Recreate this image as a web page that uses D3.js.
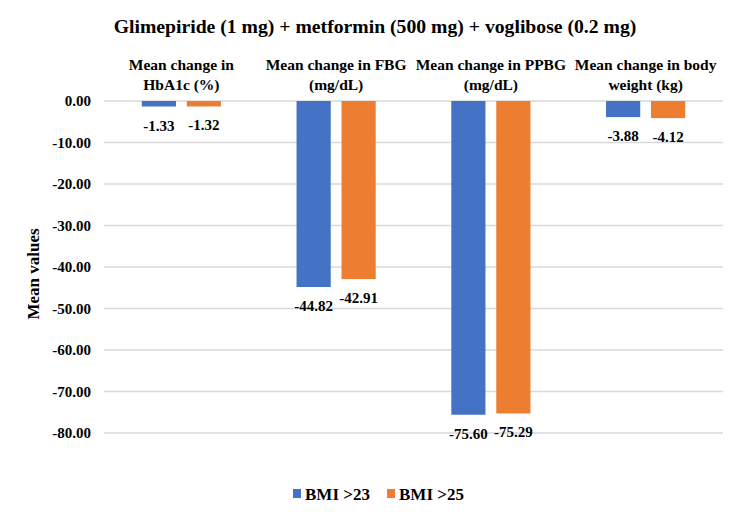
<!DOCTYPE html>
<html>
<head>
<meta charset="utf-8">
<script src="https://cdn.jsdelivr.net/npm/d3@7"></script>
<style>
  body { margin: 0; background: #fff; }
  text { font-family: "Liberation Serif", "Times New Roman", serif; font-weight: bold; fill: #000; }
</style>
</head>
<body>
<div id="chart"></div>
<script>
const width = 750,
    height = 519

const categories = [
    ["Mean change in", "HbA1c (%)"],
    ["Mean change in FBG", "(mg/dL)"],
    ["Mean change in PPBG", "(mg/dL)"],
    ["Mean change in body", "weight (kg)"]
]
const seriesNames = ["BMI >23", "BMI >25"]
const bmi23 = [-1.33, -44.82, -75.60, -3.88]
const bmi25 = [-1.32, -42.91, -75.29, -4.12]
const yTicks = [0, -10, -20, -30, -40, -50, -60, -70, -80]

const colors = ["#4472C4", "#ED7D31"]

const margin = { left: 104, right: 27, top: 101, bottom: 86 }

const svg = d3.select("#chart")
    .append("svg")
        .attr("width", width)
        .attr("height", height)

const y = d3.scaleLinear()
    .domain([0, -80])
    .range([margin.top, height - margin.bottom])

const x = d3.scaleBand()
    .domain(d3.range(categories.length))
    .range([margin.left, width - margin.right])

const xInner = d3.scaleBand()
    .domain([0, 1])
    .range([0, x.bandwidth()])
    .paddingInner(0.24)
    .paddingOuter(0.84)

// gridlines
svg.append("g")
    .selectAll("line")
    .data(yTicks)
    .enter()
    .append("line")
        .attr("x1", margin.left)
        .attr("x2", width - margin.right)
        .attr("y1", d => y(d))
        .attr("y2", d => y(d))
        .attr("stroke", "#d9d9d9")
        .attr("stroke-width", 1.3)

// y axis labels (plain hyphen, not unicode minus)
const yAxis = d3.axisLeft(y)
    .tickValues(yTicks)
    .tickFormat(d => d.toFixed(2))
    .tickSize(0)
    .tickPadding(13)

svg.append("g")
    .attr("transform", `translate(${margin.left},0)`)
    .call(yAxis)
    .call(g => g.select(".domain").remove())
    .selectAll("text")
        .style("font-family", "Liberation Serif, serif")
        .style("font-weight", "bold")
        .style("font-size", "15px")
        .attr("fill", "#000")

// y title
svg.append("text")
    .attr("transform", `translate(39,${(y(0) + y(-80)) / 2 + 7}) rotate(-90)`)
    .attr("text-anchor", "middle")
    .attr("font-size", "17px")
    .text("Mean values")

// title
svg.append("text")
    .attr("x", width / 2)
    .attr("y", 33)
    .attr("text-anchor", "middle")
    .attr("font-size", "19.7px")
    .text("Glimepiride (1 mg) + metformin (500 mg) + voglibose (0.2 mg)")

// category labels
const catLabels = svg.append("g")
    .selectAll("text")
    .data(categories)
    .enter()
    .append("text")
        .attr("text-anchor", "middle")
        .attr("font-size", "15.5px")
        .attr("x", (d, i) => x(i) + x.bandwidth() / 2)
        .attr("y", 70)

catLabels.selectAll("tspan")
    .data(d => d)
    .enter()
    .append("tspan")
        .attr("x", function () { return d3.select(this.parentNode).attr("x") })
        .attr("dy", (d, i) => i === 0 ? 0 : 20)
        .text(d => d)

// bars
const series = [bmi23, bmi25]
series.forEach((vals, s) => {
    const g = svg.append("g")
    g.selectAll("rect")
        .data(vals)
        .enter()
        .append("rect")
            .attr("x", (d, i) => x(i) + xInner(s))
            .attr("y", y(0))
            .attr("width", xInner.bandwidth())
            .attr("height", d => y(d) - y(0))
            .attr("fill", colors[s])

    g.selectAll("text")
        .data(vals)
        .enter()
        .append("text")
            .attr("x", (d, i) => x(i) + xInner(s) + xInner.bandwidth() / 2)
            .attr("y", d => y(d) + 24)
            .attr("text-anchor", "middle")
            .attr("font-size", "15px")
            .text(d => d.toFixed(2))
})

// legend
const legendX = [293, 387]
const legend = svg.append("g")
    .selectAll("g")
    .data(seriesNames)
    .enter()
    .append("g")
        .attr("transform", (d, i) => `translate(${legendX[i]},494)`)

legend.append("rect")
    .attr("x", 0)
    .attr("y", -5)
    .attr("width", 8)
    .attr("height", 9)
    .attr("fill", (d, i) => colors[i])

legend.append("text")
    .attr("x", 12)
    .attr("y", 6)
    .attr("font-size", "17px")
    .text(d => d)
</script>
</body>
</html>
